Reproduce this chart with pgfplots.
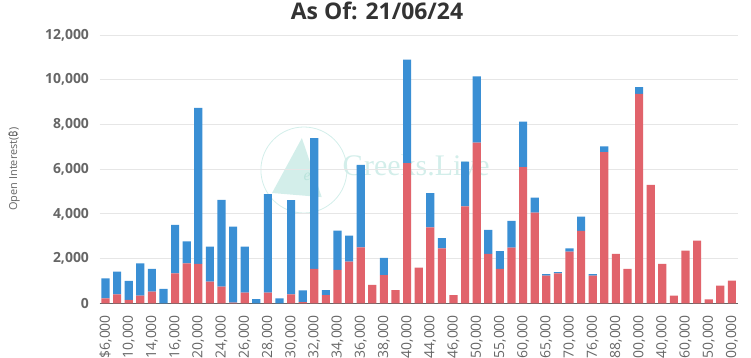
\documentclass[border=0pt]{standalone}
\usepackage{pgfplots}
\pgfplotsset{compat=1.18}
\usepackage{fontspec}
\setmainfont{Open Sans}
\newfontfamily\notosans{Noto Sans}
\newfontfamily\wmfont{Liberation Serif}
\definecolor{cred}{HTML}{E1636B}
\definecolor{cblue}{HTML}{3A8FD4}
\definecolor{txt}{HTML}{666666}
\definecolor{ttl}{HTML}{333333}
\definecolor{wm}{HTML}{D3EEEA}
\definecolor{wmt}{HTML}{B9E3DC}
\definecolor{gridc}{HTML}{E6E6E6}
\begin{document}
\begin{tikzpicture}
% watermark (behind the chart)
\draw[wm, line width=0.8bp] (204.2bp,133.3bp) circle [radius=43bp];
\fill[wm] (172.3bp,110.3bp) -- (202.2bp,165.3bp) -- (222.0bp,106.2bp) -- cycle;
\node[text=wmt, font=\wmfont\itshape\fontsize{16}{16}\selectfont] at (207.4bp,126.1bp) {e};
\node[text=wm, font=\wmfont\fontsize{30}{30}\selectfont] at (316.4bp,138.2bp) {Greeks.Live};
\begin{axis}[
  at={(0,0)}, anchor=south west,
  name=ax, scale only axis, width=638bp, height=268.3bp,
  xmin=0.5, xmax=55.5, ymin=0, ymax=12000,
  ybar stacked, bar width=0.7,
  axis x line*=bottom, axis y line*=left,
  y axis line style={draw=none},
  x axis line style={draw=txt, line width=0.8bp},
  tick align=outside,
  ytick={0,2000,...,12000}, ymajorgrids, grid style={color=gridc, line width=0.8bp},
  ytick style={draw=none},
  scaled y ticks=false,
  /pgf/number format/1000 sep={,},
  /pgf/number format/assume math mode=true,
  yticklabel style={font=\bfseries\fontsize{14}{14}\selectfont, color=txt, xshift=-3bp},
  xtick={1,3,...,55},
  xticklabels={{\$6,000},{10,000},{14,000},{16,000},{20,000},{24,000},{26,000},{28,000},{30,000},{32,000},{34,000},{36,000},{38,000},{40,000},{44,000},{46,000},{50,000},{55,000},{60,000},{65,000},{70,000},{76,000},{88,000},{100,000},{140,000},{160,000},{250,000},{300,000}},
  xtick style={draw=none},
  xticklabel style={font=\fontsize{14}{14}\selectfont, color=txt, yshift=-4bp, rotate=90, anchor=east},
  extra x ticks={0.5,2.5,4.5,6.5,8.5,10.5,12.5,14.5,16.5,18.5,20.5,22.5,24.5,26.5,28.5,30.5,32.5,34.5,36.5,38.5,40.5,42.5,44.5,46.5,48.5,50.5,52.5,54.5,55.5},
  extra x tick labels={},
  extra x tick style={major tick length=5bp, tick style={draw=txt, line width=0.8bp}},
]
% red (bottom)
\addplot[fill=cred, draw=none] coordinates {
(1,225) (2,400) (3,150) (4,340) (5,520) (6,0) (7,1340) (8,1790) (9,1760) (10,970)
(11,745) (12,30) (13,475) (14,0) (15,475) (16,0) (17,400) (18,50) (19,1535) (20,370)
(21,1490) (22,1865) (23,2505) (24,820) (25,1265) (26,595) (27,6270) (28,1595) (29,3400) (30,2460)
(31,370) (32,4330) (33,7190) (34,2210) (35,1535) (36,2490) (37,6090) (38,4060) (39,1240) (40,1340)
(41,2310) (42,3240) (43,1240) (44,6760) (45,2210) (46,1535) (47,9370) (48,5300) (49,1760) (50,340)
(51,2355) (52,2800) (53,180) (54,790) (55,1010)};
% blue (top)
\addplot[fill=cblue, draw=none] coordinates {
(1,895) (2,1015) (3,850) (4,1450) (5,1015) (6,640) (7,2165) (8,985) (9,6985) (10,1565)
(11,3880) (12,3400) (13,2060) (14,185) (15,4405) (16,220) (17,4210) (18,530) (19,5855) (20,225)
(21,1760) (22,1165) (23,3685) (24,0) (25,765) (26,0) (27,4630) (28,0) (29,1525) (30,450)
(31,0) (32,2010) (33,2960) (34,1070) (35,795) (36,1195) (37,2040) (38,670) (39,70) (40,60)
(41,150) (42,640) (43,70) (44,255) (45,0) (46,0) (47,300) (48,0) (49,0) (50,0)
(51,0) (52,0) (53,0) (54,0) (55,0)};
\end{axis}
\node[font=\fontsize{11}{11}\selectfont, text=txt, rotate=90] at ([xshift=-85.7bp]ax.west) {Open Interest({\notosans ₿})};
\node[font=\bfseries\fontsize{23}{23}\selectfont, text=ttl, anchor=base] at ([xshift=-41.7bp, yshift=15bp]ax.north) {As Of: 21/06/24};
\pgfresetboundingbox
\path[use as bounding box] ([xshift=-99.7bp,yshift=-53.7bp]ax.south west) rectangle ([xshift=13.3bp,yshift=35bp]ax.north east);
\end{tikzpicture}
\end{document}
